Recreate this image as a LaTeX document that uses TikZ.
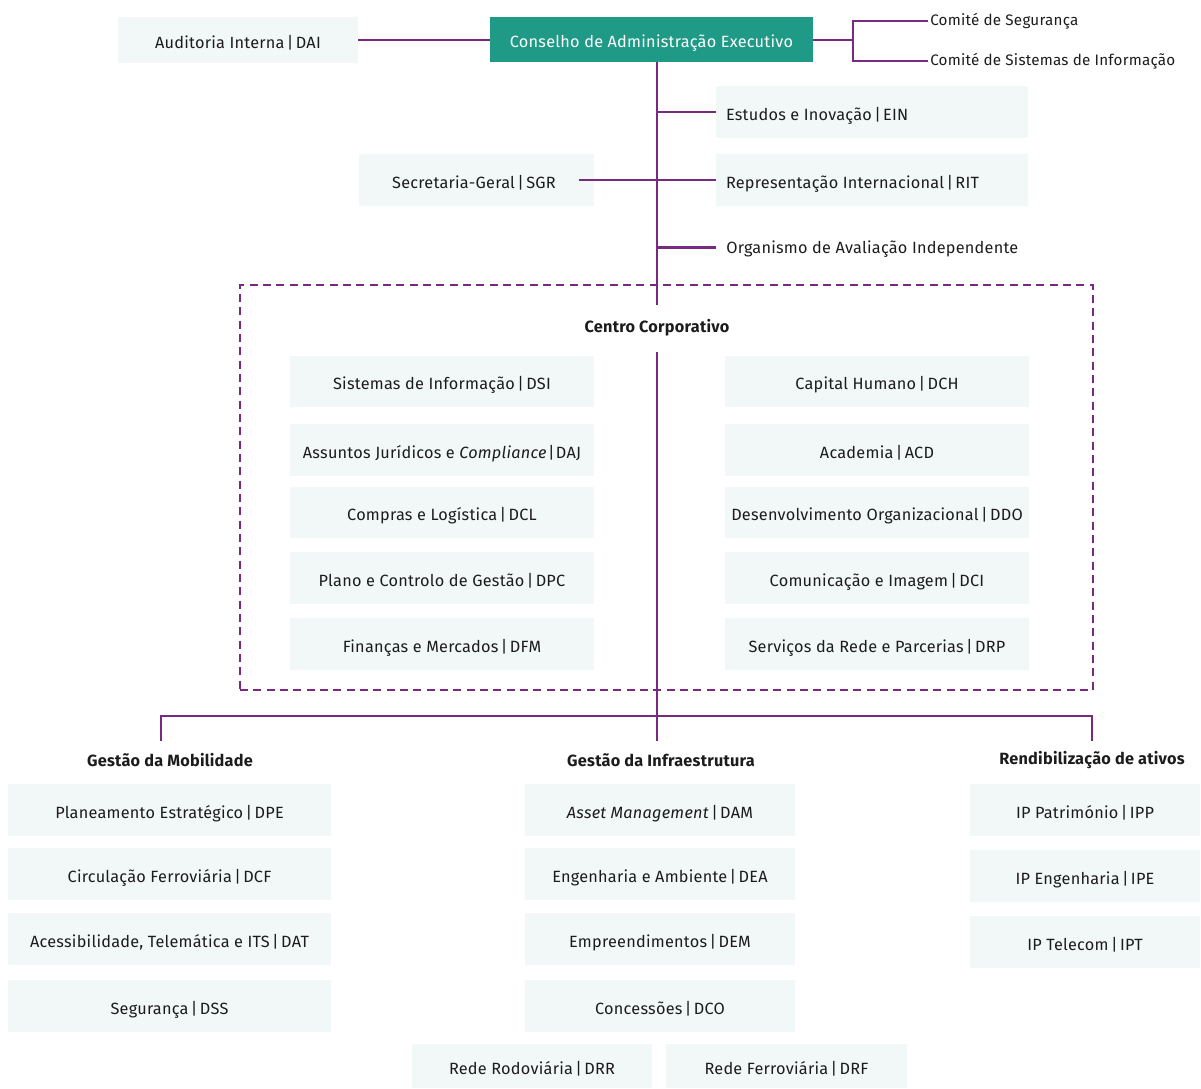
\documentclass[tikz,border=0pt]{standalone}
\usepackage{fontspec}
\setmainfont{Fira Sans}[LetterSpace=1.5]
\usetikzlibrary{fit}
\definecolor{tealc}{HTML}{1F9A87}
\definecolor{purp}{HTML}{772A7F}
\definecolor{boxc}{HTML}{F2F7F7}
\definecolor{ink}{HTML}{1C1C1C}
\newcommand\sep{\hspace{-1.6pt}|\hspace{-1.6pt}}
\newcommand\obox[6]{\node[obox, fit={(#2,#3) (#4,#5)}] (#1) {};
  \node[boxtxt] (#1t) at (#1.center) {#6};}
\begin{document}
\begin{tikzpicture}[x=0.75pt,y=-0.75pt,
  every node/.style={font=\fontsize{12.2}{14}\selectfont, text=ink},
  obox/.style={fill=boxc, inner sep=0pt, draw=none},
  boxtxt/.style={inner sep=0pt, text height=8.6pt, text depth=0pt, yshift=-1.8pt},
  tbox/.style={fill=tealc, inner sep=0pt, draw=none},
  conn/.style={draw=purp, line width=2.2pt},
  small/.style={font=\fontsize{11.4}{13}\selectfont},
  grp/.style={font=\fontsize{12.2}{14}\selectfont\bfseries},
  dashbox/.style={draw=purp, line width=1.8pt, dash pattern=on 6pt off 4pt, inner sep=0pt}]
\useasboundingbox (0,0) rectangle (1201,1088);

% top
\obox{aud}{118}{17}{358}{63}{Auditoria Interna \sep{} DAI}
\node[tbox, fit={(490,17) (813,62)}] (cae) {};
\node[boxtxt, text=white] (caet) at (cae.center) {Conselho de Administração Executivo};
\node[small, anchor=west, inner xsep=1.5pt] (cs) at (928,21) {Comité de Segurança};
\node[small, anchor=west, inner xsep=1.5pt] (csi) at (928,61) {Comité de Sistemas de Informação};
\coordinate (br) at (853,40);
\draw[conn] (aud.east |- br) -- (cae.west |- br);
\draw[conn] (cae.east |- br) -- (br);
\draw[conn] (cs.west) -| (br) |- (csi.west);

% trunk
\coordinate (t1) at (657,305);
\draw[conn] (cae.south -| t1) -- (t1);

\obox{ein}{716}{86}{1028}{138}{}
\node[boxtxt, anchor=west] (eint) at ([xshift=7.5pt]ein.west) {Estudos e Inovação \sep{} EIN};
\obox{rit}{716}{154}{1028}{206}{}
\node[boxtxt, anchor=west] (ritt) at ([xshift=7.5pt]rit.west) {Representação Internacional \sep{} RIT};
\obox{sgr}{359}{154}{594}{206}{}
\node[boxtxt] (sgrt) at (474,180) {Secretaria-Geral \sep{} SGR};
\coordinate (sgrE) at (579,180);
\node[anchor=west, inner xsep=7.5pt, inner ysep=0pt, text height=8.6pt, text depth=0pt] (oai) at (716,247.5) {Organismo de Avaliação Independente};

\draw[conn] (t1 |- ein.west) -- (ein.west);
\draw[conn] (t1 |- rit.west) -- (rit.west);
\draw[conn] (sgrE) -- (sgrE -| t1);
\draw[conn] (t1 |- oai.west) -- (oai.west);

% centro corporativo
\node[dashbox, fit={(240,285) (1093,690)}] (ccbox) {};
\node[grp] (cct) at (657,328) {Centro Corporativo};

\obox{dsi}{290}{356}{594}{407}{Sistemas de Informação \sep{} DSI}
\obox{daj}{290}{424}{594}{476}{Assuntos Jurídicos e \textit{Compliance}\kern1pt|\kern1pt DAJ}
\obox{dcl}{290}{487}{594}{538}{Compras e Logística \sep{} DCL}
\obox{dpc}{290}{552}{594}{604}{Plano e Controlo de Gestão \sep{} DPC}
\obox{dfm}{290}{618}{594}{670}{Finanças e Mercados \sep{} DFM}

\obox{dch}{725}{356}{1029}{407}{Capital Humano \sep{} DCH}
\obox{acd}{725}{424}{1029}{476}{Academia \sep{} ACD}
\obox{ddo}{725}{487}{1029}{538}{Desenvolvimento Organizacional \sep{} DDO}
\obox{dci}{725}{552}{1029}{604}{Comunicação e Imagem \sep{} DCI}
\obox{drp}{725}{618}{1029}{670}{Serviços da Rede e Parcerias \sep{} DRP}

\coordinate (t2) at (657,352);
\coordinate (t3) at (657,741);
\draw[conn] (t2) -- (t3);

% bottom bar
\coordinate (bl) at (161,741);
\coordinate (brr) at (1092,741);
\draw[conn] (bl) |- (t3 |- 0,716) -| (brr);

\node[grp] (gm) at (170,760) {Gestão da Mobilidade};
\node[grp] (gi) at (661,760) {Gestão da Infraestrutura};
\node[grp] (gr) at (1092,760) {Rendibilização de ativos};

\obox{dpe}{8}{784}{331}{836}{Planeamento Estratégico \sep{} DPE}
\obox{dcf}{8}{848}{331}{900}{Circulação Ferroviária \sep{} DCF}
\obox{dat}{8}{913}{331}{965}{Acessibilidade, Telemática e ITS \sep{} DAT}
\obox{dss}{8}{980}{331}{1032}{Segurança \sep{} DSS}

\obox{dam}{525}{784}{795}{836}{\textit{Asset Management} \sep{} DAM}
\obox{dea}{525}{848}{795}{900}{Engenharia e Ambiente \sep{} DEA}
\obox{dem}{525}{913}{795}{965}{Empreendimentos \sep{} DEM}
\obox{dco}{525}{980}{795}{1032}{Concessões \sep{} DCO}
\obox{drr}{412}{1044}{652}{1088}{Rede Rodoviária \sep{} DRR}
\obox{drf}{666}{1044}{907}{1088}{Rede Ferroviária \sep{} DRF}

\obox{ipp}{970}{784}{1200}{836}{IP Património \sep{} IPP}
\obox{ipe}{970}{850}{1200}{902}{IP Engenharia \sep{} IPE}
\obox{ipt}{970}{916}{1200}{968}{IP Telecom \sep{} IPT}
\end{tikzpicture}
\end{document}
